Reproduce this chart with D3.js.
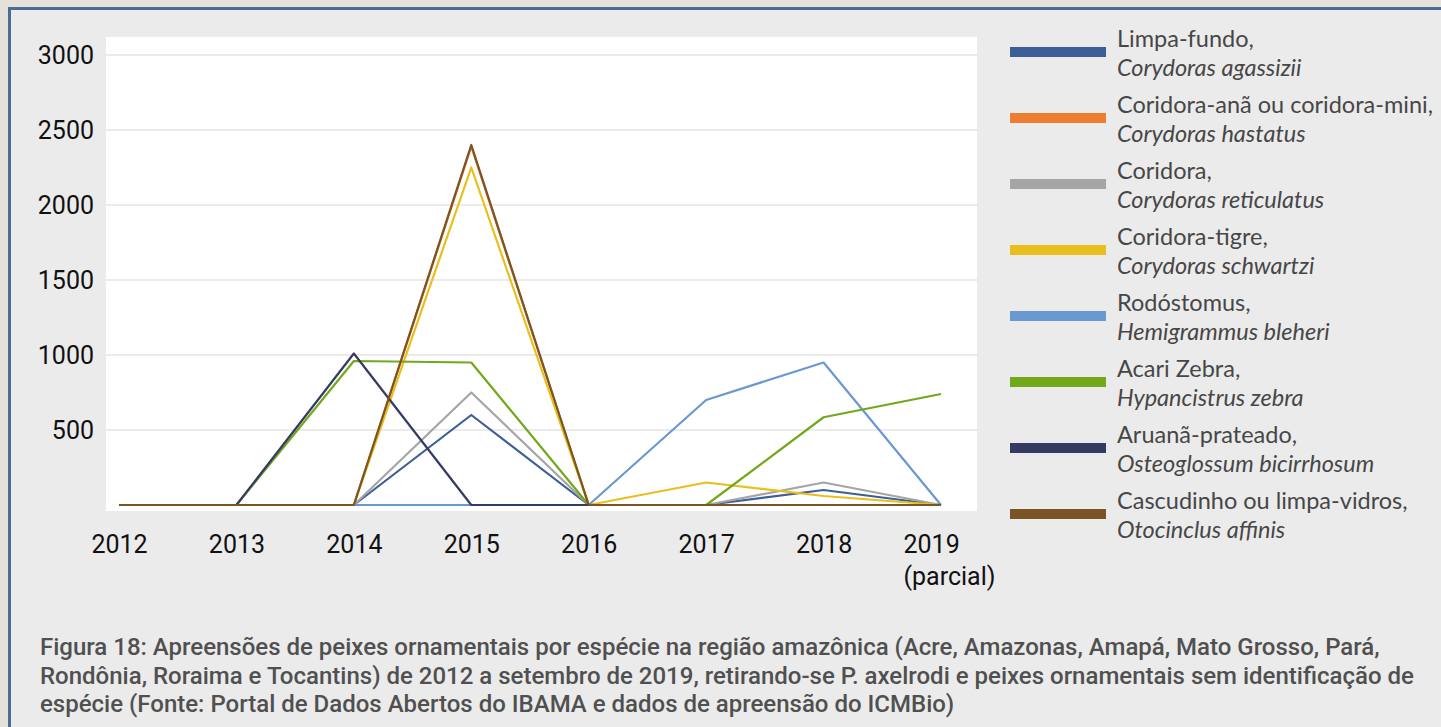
<!DOCTYPE html>
<html>
<head>
<meta charset="utf-8">
<script src="https://cdn.jsdelivr.net/npm/d3@7"></script>
<style>
  body { margin: 0; background: #e3e1da; }
  svg { display: block; }
</style>
</head>
<body>
<div id="chart"></div>
<script>
  // anos (eixo x) e marcas do eixo y
  var years = ["2012", "2013", "2014", "2015", "2016", "2017", "2018", "2019"];
  var yTicks = [500, 1000, 1500, 2000, 2500, 3000];

  // nomes das especies (nome popular, nome cientifico)
  var commonNames = ["Limpa-fundo,", "Coridora-anã ou coridora-mini,", "Coridora,", "Coridora-tigre,",
    "Rodóstomus,", "Acari Zebra,", "Aruanã-prateado,", "Cascudinho ou limpa-vidros,"];
  var sciNames = ["Corydoras agassizii", "Corydoras hastatus", "Corydoras reticulatus", "Corydoras schwartzi",
    "Hemigrammus bleheri", "Hypancistrus zebra", "Osteoglossum bicirrhosum", "Otocinclus affinis"];

  // apreensoes por ano, uma lista por especie
  var limpaFundo   = [0, 0, 0, 600, 0, 0, 100, 0];
  var coridoraAna  = [0, 0, 0, 2390, 0, 0, 0, 0];
  var coridora     = [0, 0, 0, 750, 0, 0, 150, 0];
  var coridoraTigre = [0, 0, 0, 2250, 0, 150, 60, 0];
  var rodostomus   = [0, 0, 0, 0, 0, 700, 950, 0];
  var acariZebra   = [0, 0, 960, 950, 0, 0, 585, 740];
  var aruana       = [0, 0, 1010, 0, 0, 0, 0, 0];
  var cascudinho   = [0, 0, 0, 2400, 0, 0, 0, 0];

  var colors = ["#3b5f96", "#ed7d31", "#a5a5a5", "#e8bf1c", "#6a98d0", "#72a81a", "#343a62", "#7a5424"];

  var caption = [
    "Figura 18: Apreensões de peixes ornamentais por espécie na região amazônica (Acre, Amazonas, Amapá, Mato Grosso, Pará,",
    "Rondônia, Roraima e Tocantins) de 2012 a setembro de 2019, retirando-se P. axelrodi e peixes ornamentais sem identificação de",
    "espécie (Fonte: Portal de Dados Abertos do IBAMA e dados de apreensão do ICMBio)"
  ];

  var allSeries = [limpaFundo, coridoraAna, coridora, coridoraTigre, rodostomus, acariZebra, aruana, cascudinho];
  var data = allSeries.map(function (vals, i) {
    return {
      name: commonNames[i],
      sci: sciNames[i],
      color: colors[i],
      values: vals.map(function (v, j) { return { year: years[j], value: v }; })
    };
  });

  var width = 1441, height = 727;

  var svg = d3.select("#chart")
    .append("svg")
    .attr("width", width)
    .attr("height", height);

  // painel cinza com borda azul
  svg.append("rect")
    .attr("x", 9.5).attr("y", 8.5)
    .attr("width", width + 20).attr("height", height + 20)
    .attr("fill", "#ebebeb")
    .attr("stroke", "#4d6a94")
    .attr("stroke-width", 3);

  // area do grafico
  svg.append("rect")
    .attr("x", 106).attr("y", 37)
    .attr("width", 871).attr("height", 474)
    .attr("fill", "#ffffff");

  var xScale = d3.scalePoint().domain(years).range([119, 941]);
  var yScale = d3.scaleLinear().domain([0, 3000]).range([505, 55]);

  // linhas de grade
  svg.append("g")
    .selectAll("line")
    .data(yTicks)
    .enter()
    .append("line")
    .attr("x1", 106).attr("x2", 977)
    .attr("y1", function (d) { return yScale(d); })
    .attr("y2", function (d) { return yScale(d); })
    .attr("stroke", "#e4e4e4")
    .attr("stroke-width", 1.5);

  // eixo y (so os rotulos)
  var yAxis = svg.append("g")
    .attr("transform", "translate(106,0)")
    .call(d3.axisLeft(yScale).tickValues(yTicks).tickFormat(d3.format("d")).tickSize(0).tickPadding(12));
  yAxis.select(".domain").remove();
  yAxis.selectAll("text")
    .attr("font-family", "Roboto, sans-serif")
    .attr("font-size", "25px")
    .attr("fill", "#111");

  // eixo x
  var xAxis = svg.append("g")
    .attr("transform", "translate(0,505)")
    .call(d3.axisBottom(xScale).tickSize(0).tickPadding(0));
  xAxis.select(".domain").remove();
  xAxis.selectAll("text")
    .attr("font-family", "Roboto, sans-serif")
    .attr("font-size", "25px")
    .attr("fill", "#111")
    .attr("dy", null)
    .attr("y", 48)
    .each(function (d) {
      if (d === "2019") {
        var t = d3.select(this).text(null).attr("text-anchor", "start").attr("x", -38);
        t.append("tspan").attr("x", -38).text("2019");
        t.append("tspan").attr("x", -38).attr("dy", 32).text("(parcial)");
      }
    });

  // linhas das especies
  var line = d3.line()
    .x(function (d) { return xScale(d.year); })
    .y(function (d) { return yScale(d.value); });

  svg.append("g")
    .selectAll("path")
    .data(data)
    .enter()
    .append("path")
    .attr("d", function (d) { return line(d.values); })
    .attr("fill", "none")
    .attr("stroke", function (d) { return d.color; })
    .attr("stroke-width", 2.2)
    .attr("stroke-linejoin", "round");

  // legenda
  var legend = svg.append("g")
    .selectAll("g")
    .data(data)
    .enter()
    .append("g")
    .attr("transform", function (d, i) { return "translate(0," + (i * 66) + ")"; });

  legend.append("line")
    .attr("x1", 1010).attr("x2", 1106)
    .attr("y1", 52).attr("y2", 52)
    .attr("stroke", function (d) { return d.color; })
    .attr("stroke-width", 10);

  legend.append("text")
    .attr("x", 1117).attr("y", 47)
    .attr("font-family", "Lato, sans-serif")
    .attr("font-size", "23.5px")
    .attr("fill", "#474747")
    .text(function (d) { return d.name; });

  legend.append("text")
    .attr("x", 1117).attr("y", 76)
    .attr("font-family", "Lato, sans-serif")
    .attr("font-size", "23.5px")
    .attr("font-style", "italic")
    .attr("fill", "#474747")
    .text(function (d) { return d.sci; });

  // legenda da figura
  svg.append("g")
    .selectAll("text")
    .data(caption)
    .enter()
    .append("text")
    .attr("x", 40)
    .attr("y", function (d, i) { return 655 + i * 28.7; })
    .attr("font-family", "Roboto, sans-serif")
    .attr("font-size", "24px")
    .attr("font-weight", 500)
    .attr("fill", "#505050")
    .text(function (d) { return d; });
</script>
</body>
</html>
